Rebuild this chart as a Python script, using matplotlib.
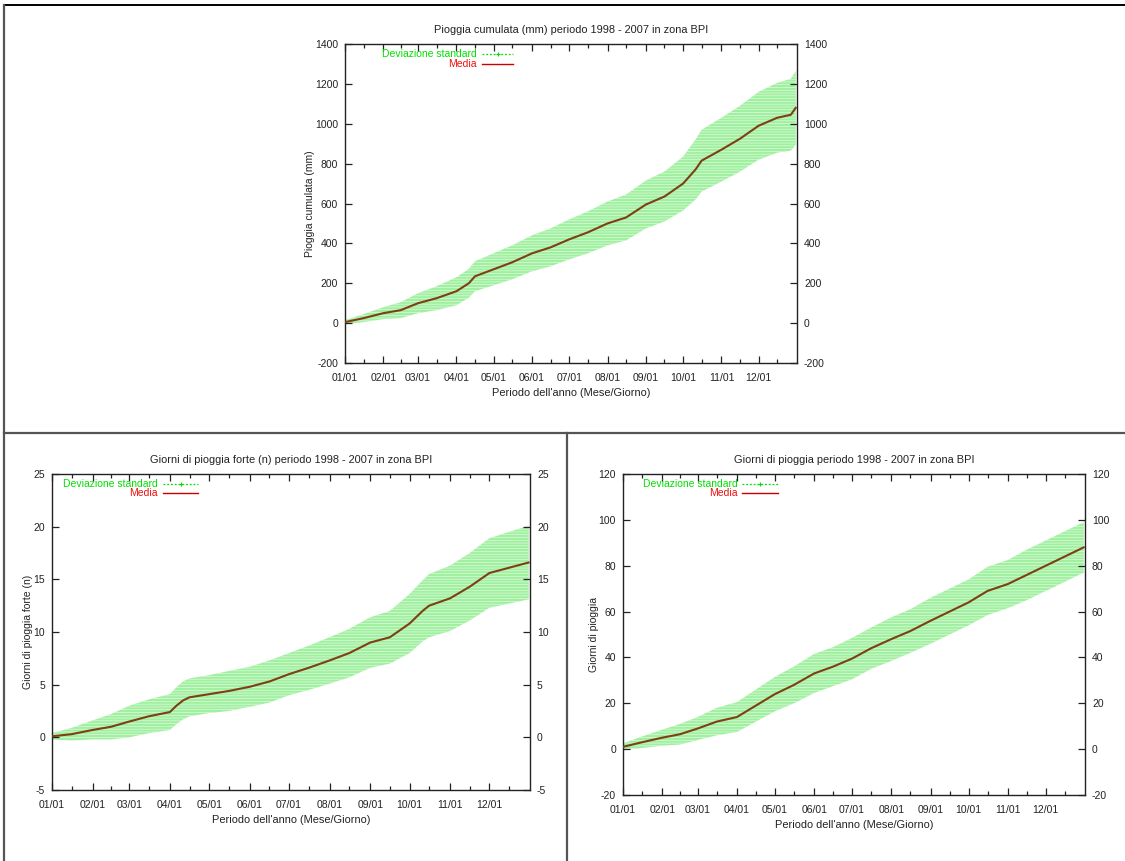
import matplotlib
matplotlib.use("Agg")
import matplotlib.pyplot as plt
from matplotlib.lines import Line2D
from matplotlib.ticker import FixedLocator, NullFormatter

plt.rcParams['font.family'] = ['Liberation Sans', 'DejaVu Sans']
plt.rcParams['hatch.linewidth'] = 0.45
plt.rcParams['axes.unicode_minus'] = False

# ---------------- data ----------------
month_days = [0, 31, 59, 90, 120, 151, 181, 212, 243, 273, 304, 334]
month_labels = ["01/01", "02/01", "03/01", "04/01", "05/01", "06/01",
                "07/01", "08/01", "09/01", "10/01", "11/01", "12/01"]
mid_days = [15, 45, 74, 105, 135, 166, 196, 227, 258, 288, 319, 349]

# Top: cumulated rain (mm)
rain_days = [0, 15, 31, 45, 59, 74, 90, 100, 105, 120, 135, 151, 166, 181,
             196, 212, 227, 243, 258, 273, 283, 288, 304, 319, 334, 349, 360, 364]
rain_mean = [5, 25, 50, 65, 100, 125, 160, 200, 235, 270, 305, 350, 380, 420,
             455, 500, 530, 595, 635, 700, 770, 815, 870, 925, 990, 1030, 1045, 1080]
rain_std = [10, 20, 30, 40, 50, 60, 70, 72, 75, 80, 85, 90, 95, 100,
            105, 110, 115, 120, 125, 135, 150, 155, 160, 165, 170, 175, 180, 185]

# Bottom left: heavy rain days (n)
heavy_days = [0, 15, 31, 45, 59, 74, 90, 95, 100, 105, 120, 135, 151, 166, 181,
              196, 212, 227, 243, 258, 273, 283, 288, 304, 319, 334, 349, 364]
heavy_mean = [0.1, 0.3, 0.7, 1.0, 1.5, 2.0, 2.4, 3.0, 3.5, 3.8, 4.1, 4.4, 4.8, 5.3, 6.0,
              6.6, 7.3, 8.0, 9.0, 9.5, 10.8, 12.0, 12.5, 13.2, 14.3, 15.6, 16.1, 16.6]
heavy_std = [0.3, 0.6, 0.9, 1.2, 1.5, 1.6, 1.7, 1.75, 1.8, 1.8, 1.8, 1.9, 1.9, 2.0, 2.0,
             2.1, 2.2, 2.3, 2.4, 2.5, 2.8, 2.9, 3.0, 3.1, 3.2, 3.3, 3.4, 3.5]

# Bottom right: rain days (n)
wet_days = [0, 15, 31, 45, 59, 74, 90, 105, 120, 135, 151, 166, 181,
            196, 212, 227, 243, 258, 273, 288, 304, 319, 334, 349, 364]
wet_mean = [1, 3, 5, 6.5, 9, 12, 14, 19, 24, 28, 33, 36, 39.5,
            44, 48, 51.5, 56, 60, 64, 69, 72, 76, 80, 84, 88]
wet_std = [1.5, 2.5, 3.5, 4.5, 5, 6, 6.5, 7, 7.5, 8, 8.5, 8.5, 9,
           9, 9.5, 9.5, 10, 10, 10, 10.5, 10.5, 11, 11, 11, 11]

panels = [
    dict(rect=[345/1125, 1-363/861, 452/1125, 319/861],
         days=rain_days, mean=rain_mean, std=rain_std,
         ylim=(-200, 1400), yticks=list(range(-200, 1401, 200)),
         title="Pioggia cumulata (mm) periodo 1998 - 2007 in zona BPI",
         ylabel="Pioggia cumulata (mm)",
         leg=(0.292, 0.303, 0.372, 0.969, 0.937)),
    dict(rect=[52/1125, 1-790/861, 478/1125, 316/861],
         days=heavy_days, mean=heavy_mean, std=heavy_std,
         ylim=(-5, 25), yticks=list(range(-5, 26, 5)),
         title="Giorni di pioggia forte (n) periodo 1998 - 2007 in zona BPI",
         ylabel="Giorni di pioggia forte (n)",
         leg=(0.222, 0.233, 0.305, 0.968, 0.940)),
    dict(rect=[623/1125, 1-795/861, 462/1125, 321/861],
         days=wet_days, mean=wet_mean, std=wet_std,
         ylim=(-20, 120), yticks=list(range(-20, 121, 20)),
         title="Giorni di pioggia periodo 1998 - 2007 in zona BPI",
         ylabel="Giorni di pioggia",
         leg=(0.249, 0.258, 0.335, 0.969, 0.941)),
]

FS = 7.5
GREEN = '#00e000'
BAND = '#9ff09f'
MEAN_C = '#7e3f14'

fig = plt.figure(figsize=(11.25, 8.61), dpi=100)

# frame lines of the page layout
def fline(x0, y0, x1, y1, c='#555555', lw=1.6):
    fig.add_artist(Line2D([x0/1125, x1/1125], [1-y0/861, 1-y1/861],
                          color=c, lw=lw, transform=fig.transFigure))

fline(4, 5, 1125, 5, c='black', lw=1.4)
fline(4, 5, 4, 861)
fline(4, 433, 1125, 433)
fline(567, 433, 567, 861)

for p in panels:
    ax = fig.add_axes(p['rect'])
    lo = [m - s for m, s in zip(p['mean'], p['std'])]
    hi = [m + s for m, s in zip(p['mean'], p['std'])]
    ax.fill_between(p['days'], lo, hi, facecolor=BAND, edgecolor='#e8fbe8',
                    hatch='------', linewidth=0, zorder=1)
    ax.plot(p['days'], p['mean'], color=MEAN_C, lw=1.5, zorder=3)

    ax.set_xlim(0, 365)
    ax.set_ylim(*p['ylim'])
    ax.set_yticks(p['yticks'])
    ax.set_xticks(month_days)
    ax.set_xticklabels(month_labels)
    ax.xaxis.set_minor_locator(FixedLocator(mid_days))
    ax.xaxis.set_minor_formatter(NullFormatter())
    ax.tick_params(axis='both', which='both', direction='in', top=True,
                   right=True, labelright=True, labelsize=FS, colors='#222222',
                   width=0.9)
    ax.tick_params(axis='x', which='major', length=5, pad=7)
    ax.tick_params(axis='y', which='major', length=5, pad=5)
    ax.tick_params(axis='x', which='minor', length=3)
    for sp in ax.spines.values():
        sp.set_linewidth(1.0)
        sp.set_color('#222222')

    ax.set_title(p['title'], fontsize=7.9, pad=8, color='#222222')
    ax.set_ylabel(p['ylabel'], fontsize=FS, labelpad=0, color='#222222')
    ax.set_xlabel("Periodo dell'anno (Mese/Giorno)", fontsize=7.9, labelpad=4,
                  color='#222222')

    tx, l0, l1, y1, y2 = p['leg']
    ax.text(tx, y1, "Deviazione standard", transform=ax.transAxes, ha='right',
            va='center', fontsize=FS, color=GREEN)
    ax.plot([l0, l1], [y1, y1], transform=ax.transAxes, color=GREEN, lw=0.9,
            ls=(0, (1.5, 1.5)), clip_on=False)
    ax.plot([(l0 + l1) / 2], [y1], transform=ax.transAxes, color=GREEN,
            marker='+', ms=3, mew=0.8, clip_on=False)
    ax.text(tx, y2, "Media", transform=ax.transAxes, ha='right',
            va='center', fontsize=FS, color='#ee1010')
    ax.plot([l0, l1], [y2, y2], transform=ax.transAxes, color='#cc0000',
            lw=1.0, clip_on=False)

fig.savefig("out.png", dpi=100)
